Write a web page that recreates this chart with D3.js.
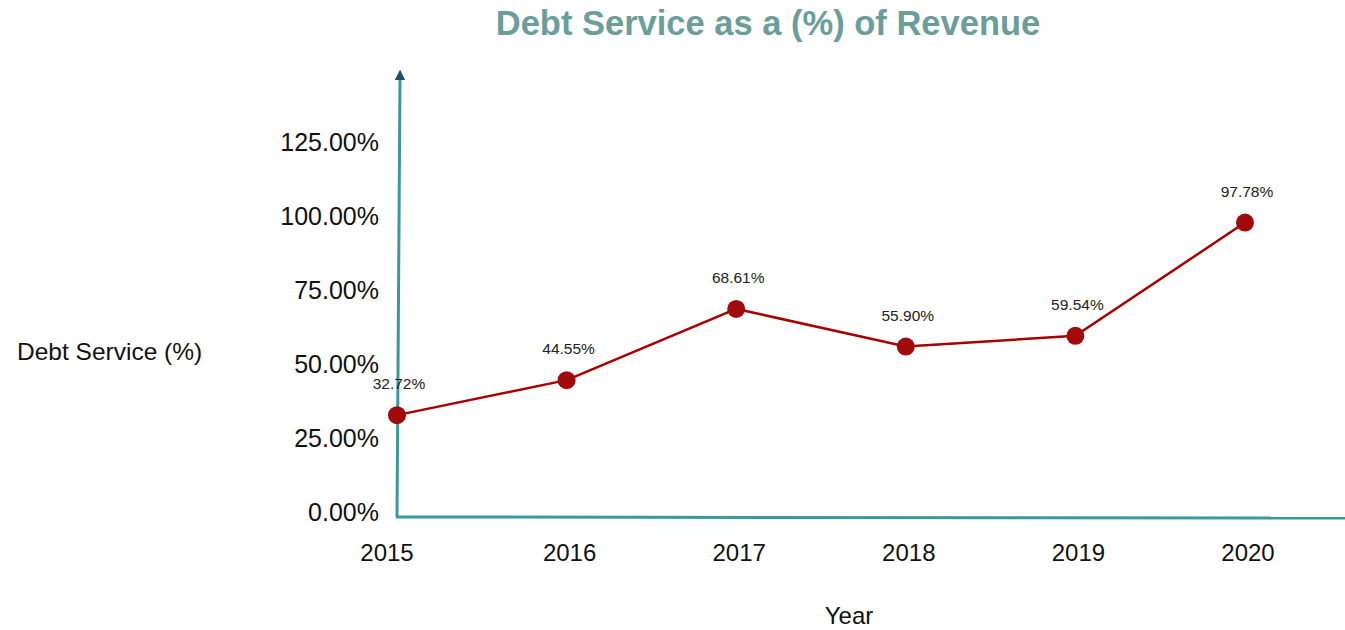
<!DOCTYPE html>
<html>
<head>
<meta charset="utf-8">
<script src="https://cdn.jsdelivr.net/npm/d3@7"></script>
<style>
  body { margin: 0; background: #fff; }
  text { font-family: "Liberation Sans", Arial, sans-serif; }
</style>
</head>
<body>
<div id="chart"></div>
<script>
// data
var years = ["2015", "2016", "2017", "2018", "2019", "2020"];
var debtService = [32.72, 44.55, 68.61, 55.90, 59.54, 97.78];
var yTicks = [0, 25, 50, 75, 100, 125];

var width = 1345, height = 630;

var svg = d3.select("#chart")
  .append("svg")
    .attr("width", width)
    .attr("height", height);

// scales
var x = d3.scalePoint()
  .domain(years)
  .range([397, 1245]);

var y = d3.scaleLinear()
  .domain([0, 150])
  .range([512, 68]);

// arrow marker for the y axis
svg.append("defs").append("marker")
    .attr("id", "arrow")
    .attr("viewBox", "0 0 10 10")
    .attr("refX", 2).attr("refY", 5)
    .attr("markerWidth", 3.5).attr("markerHeight", 3.5)
    .attr("orient", "auto")
  .append("path")
    .attr("d", "M0,0 L10,5 L0,10 Z")
    .attr("fill", "#1f4e6e");

// title
svg.append("text")
  .attr("x", 768).attr("y", 35)
  .attr("text-anchor", "middle")
  .style("font-size", "34.5px")
  .style("font-weight", "bold")
  .style("fill", "#6a9e9b")
  .text("Debt Service as a (%) of Revenue");

// axis lines
svg.append("line")
  .attr("x1", 397).attr("y1", 517)
  .attr("x2", 400).attr("y2", 78)
  .attr("stroke", "#3a9a96").attr("stroke-width", 3)
  .attr("marker-end", "url(#arrow)");

svg.append("line")
  .attr("x1", 396).attr("y1", 517)
  .attr("x2", 1345).attr("y2", 518)
  .attr("stroke", "#3a9a96").attr("stroke-width", 3);

// y tick labels
svg.append("g")
  .selectAll("text")
  .data(yTicks)
  .enter()
  .append("text")
    .attr("x", 379)
    .attr("y", function (d) { return y(d); })
    .attr("dy", "0.35em")
    .attr("text-anchor", "end")
    .style("font-size", "25px")
    .style("fill", "#111")
    .text(function (d) { return d.toFixed(2) + "%"; });

// x tick labels
svg.append("g")
  .selectAll("text")
  .data(years)
  .enter()
  .append("text")
    .attr("x", function (d) { return x(d) - (d === "2015" ? 10 : -3); })
    .attr("y", 561)
    .attr("text-anchor", "middle")
    .style("font-size", "24px")
    .style("fill", "#111")
    .text(function (d) { return d; });

// axis titles
svg.append("text")
  .attr("x", 849).attr("y", 624)
  .attr("text-anchor", "middle")
  .style("font-size", "24px")
  .style("fill", "#111")
  .text("Year");

svg.append("text")
  .attr("x", 17).attr("y", 360)
  .style("font-size", "24.5px")
  .style("fill", "#111")
  .text("Debt Service (%)");

// line
var line = d3.line()
  .x(function (d, i) { return x(years[i]); })
  .y(function (d) { return y(d); });

svg.append("path")
  .datum(debtService)
  .attr("d", line)
  .attr("fill", "none")
  .attr("stroke", "#a80000")
  .attr("stroke-width", 2.5);

// points
svg.append("g")
  .selectAll("circle")
  .data(debtService)
  .enter()
  .append("circle")
    .attr("cx", function (d, i) { return x(years[i]); })
    .attr("cy", function (d) { return y(d); })
    .attr("r", 9)
    .style("fill", "#a00a0a");

// value labels
svg.append("g")
  .selectAll("text")
  .data(debtService)
  .enter()
  .append("text")
    .attr("x", function (d, i) { return x(years[i]) + 2; })
    .attr("y", function (d) { return y(d) - 26; })
    .attr("text-anchor", "middle")
    .style("font-size", "15.5px")
    .style("fill", "#222")
    .text(function (d) { return d.toFixed(2) + "%"; });
</script>
</body>
</html>
